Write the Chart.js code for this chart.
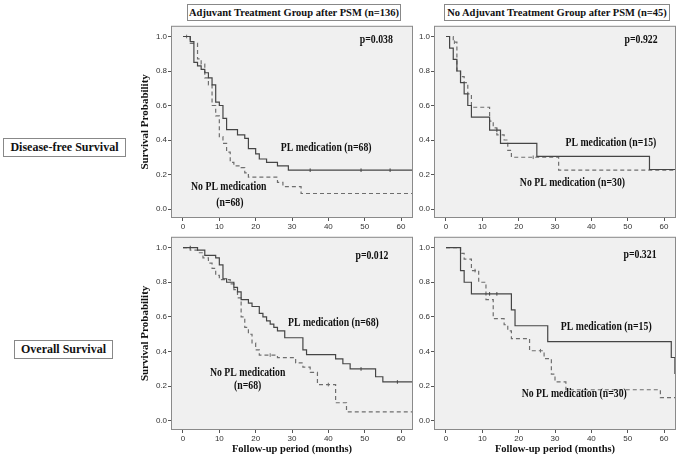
<!DOCTYPE html>
<html>
<head>
<meta charset="utf-8">
<script src="https://cdn.jsdelivr.net/npm/chart.js@4/dist/chart.umd.min.js"></script>
<style>
body { margin: 0; background: #fff; }
#page { position: relative; width: 681px; height: 461px; overflow: hidden; font-family: "Liberation Serif", serif; }
canvas { position: absolute; }
.box { position: absolute; border: 1px solid #888; font-weight: bold; color: #111; text-align: center; white-space: nowrap; box-sizing: border-box; }
</style>
</head>
<body>
<div id="page">
  <div class="box" style="left:187px;top:4px;width:214px;height:17px;line-height:15px;font-size:10.5px">Adjuvant Treatment Group after PSM (n=136)</div>
  <div class="box" style="left:444px;top:4px;width:226px;height:17px;line-height:15px;font-size:10.5px">No Adjuvant Treatment Group after PSM (n=45)</div>
  <div class="box" style="left:3px;top:138px;width:123px;height:19px;line-height:17px;font-size:12px">Disease-free Survival</div>
  <div class="box" style="left:14px;top:340px;width:99px;height:19px;line-height:17px;font-size:12px">Overall Survival</div>
  <canvas id="dfsAdj" width="279" height="214" style="left:139px;top:20px"></canvas>
  <canvas id="dfsNoAdj" width="281" height="214" style="left:400px;top:20px"></canvas>
  <canvas id="osAdj" width="279" height="230" style="left:139px;top:231px"></canvas>
  <canvas id="osNoAdj" width="281" height="230" style="left:400px;top:231px"></canvas>
</div>
<script>
// ---------- axis ticks ----------
const xTicks = [0, 10, 20, 30, 40, 50, 60];
const yTicks = [0.0, 0.2, 0.4, 0.6, 0.8, 1.0];

// ---------- DFS, adjuvant group (n=136) ----------
const dfsAdjPlTime = [0, 2, 3, 4, 5, 6, 7, 8, 9, 10, 11, 12, 15, 17, 18, 20, 21, 23, 26, 29, 64];
const dfsAdjPlSurv = [1.0, 0.97, 0.85, 0.83, 0.81, 0.79, 0.76, 0.72, 0.62, 0.60, 0.525, 0.46, 0.43, 0.41, 0.35, 0.32, 0.29, 0.27, 0.25, 0.225, 0.225];
const dfsAdjPlCensTime = [35, 49, 57];
const dfsAdjPlCensSurv = [0.225, 0.225, 0.225];
const dfsAdjNoTime = [0, 2, 4, 5, 6, 7, 8, 9, 10, 11, 12, 13, 14, 16, 17, 18, 26, 27.5, 32.5, 64];
const dfsAdjNoSurv = [1.0, 0.96, 0.87, 0.84, 0.76, 0.72, 0.60, 0.54, 0.42, 0.38, 0.33, 0.27, 0.25, 0.24, 0.21, 0.185, 0.155, 0.13, 0.09, 0.09];
const dfsAdjNoCensTime = [1];
const dfsAdjNoCensSurv = [1.0];

// ---------- DFS, no adjuvant group (n=45) ----------
const dfsNoAdjPlTime = [0, 1, 2, 3, 4, 5, 6, 7, 12, 15, 25, 56, 64];
const dfsNoAdjPlSurv = [1.0, 0.933, 0.867, 0.80, 0.733, 0.667, 0.60, 0.533, 0.457, 0.381, 0.305, 0.229, 0.229];
const dfsNoAdjPlCensTime = [14];
const dfsNoAdjPlCensSurv = [0.457];
const dfsNoAdjNoTime = [0, 2, 3, 4, 5, 6, 7, 12, 13, 14, 16, 17, 18, 31, 64];
const dfsNoAdjNoSurv = [1.0, 0.967, 0.80, 0.767, 0.733, 0.667, 0.59, 0.51, 0.47, 0.43, 0.40, 0.34, 0.30, 0.225, 0.225];
const dfsNoAdjNoCensTime = [2.3, 24];
const dfsNoAdjNoCensSurv = [0.967, 0.30];

// ---------- OS, adjuvant group (n=136) ----------
const osAdjPlTime = [0, 4, 6, 9, 10, 11, 12, 14, 15, 16, 18, 19, 21, 22, 23, 24, 25, 26, 28, 33, 34, 42, 44, 46, 53, 55, 64];
const osAdjPlSurv = [1.0, 0.985, 0.955, 0.94, 0.90, 0.82, 0.80, 0.77, 0.745, 0.70, 0.68, 0.66, 0.62, 0.60, 0.577, 0.558, 0.54, 0.52, 0.48, 0.41, 0.383, 0.358, 0.33, 0.30, 0.255, 0.225, 0.225];
const osAdjPlCensTime = [2, 49, 59];
const osAdjPlCensSurv = [1.0, 0.30, 0.225];
const osAdjNoTime = [0, 2, 4, 5.5, 7, 8, 9, 10, 13, 14, 15, 16, 17, 18, 19, 20, 21, 26, 31, 33, 35, 37, 42, 45, 64];
const osAdjNoSurv = [1.0, 0.985, 0.97, 0.94, 0.91, 0.88, 0.84, 0.815, 0.79, 0.757, 0.71, 0.60, 0.54, 0.50, 0.45, 0.41, 0.38, 0.365, 0.335, 0.31, 0.28, 0.21, 0.105, 0.053, 0.053];
const osAdjNoCensTime = [24, 40];
const osAdjNoCensSurv = [0.38, 0.21];

// ---------- OS, no adjuvant group (n=45) ----------
const osNoAdjPlTime = [0, 4, 5, 7, 18, 19, 28, 62, 63, 64];
const osNoAdjPlSurv = [1.0, 0.867, 0.80, 0.733, 0.641, 0.549, 0.458, 0.366, 0.275, 0.275];
const osNoAdjPlCensTime = [12, 14];
const osNoAdjPlCensSurv = [0.733, 0.733];
const osNoAdjNoTime = [0, 4, 5, 7, 9, 11, 13, 16, 17, 18, 23, 27, 29, 30, 33, 59, 64];
const osNoAdjNoSurv = [1.0, 0.967, 0.933, 0.867, 0.80, 0.70, 0.59, 0.555, 0.52, 0.475, 0.405, 0.36, 0.27, 0.225, 0.18, 0.135, 0.135];
const osNoAdjNoCensTime = [8, 26];
const osNoAdjNoCensSurv = [0.867, 0.405];

const solidColor = '#454545';
const dashColor = '#6e6e6e';

function pts(t, s) {
    return t.map((v, i) => ({ x: v, y: s[i] }));
}

// background, frame and in-plot text
const panelFrame = {
    id: 'panelFrame',
    beforeDatasetsDraw(chart) {
        const a = chart.chartArea;
        const ctx = chart.ctx;
        ctx.save();
        ctx.fillStyle = '#f0f0f0';
        ctx.fillRect(a.left, a.top, a.right - a.left, a.bottom - a.top);
        ctx.restore();
    },
    afterDraw(chart, args, opts) {
        const a = chart.chartArea;
        const ctx = chart.ctx;
        ctx.save();
        ctx.strokeStyle = '#8a8a8a';
        ctx.lineWidth = 1;
        ctx.strokeRect(a.left + 0.5, a.top + 0.5, a.right - a.left - 1, a.bottom - a.top - 1);
        ctx.fillStyle = '#111';
        ctx.font = 'bold 11.5px "Liberation Serif"';
        ctx.textAlign = 'center';
        ctx.textBaseline = 'middle';
        (opts.notes || []).forEach(n => {
            ctx.save();
            ctx.translate(chart.scales.x.getPixelForValue(n.x), chart.scales.y.getPixelForValue(n.y));
            ctx.scale(0.85, 1);
            ctx.fillText(n.text, 0, 0);
            ctx.restore();
        });
        ctx.restore();
    }
};

function drawPanel(id, p) {
    const tickFont = { family: '"Liberation Sans"', size: 8 };
    new Chart(document.getElementById(id), {
        type: 'line',
        data: {
            datasets: [
                { data: pts(p.plT, p.plS), stepped: true, borderColor: solidColor, borderWidth: 1.2, pointRadius: 0, fill: false },
                { data: pts(p.noT, p.noS), stepped: true, borderColor: dashColor, borderWidth: 1.2, borderDash: [4, 3], pointRadius: 0, fill: false },
                { type: 'scatter', data: pts(p.plCT, p.plCS), pointStyle: 'line', pointRotation: 90, pointRadius: 1.8, pointBorderColor: solidColor, pointBorderWidth: 1 },
                { type: 'scatter', data: pts(p.noCT, p.noCS), pointStyle: 'line', pointRotation: 90, pointRadius: 1.8, pointBorderColor: dashColor, pointBorderWidth: 1 }
            ]
        },
        options: {
            responsive: false,
            animation: false,
            devicePixelRatio: 1,
            layout: { padding: { top: 4, right: p.padRight, bottom: p.padBottom, left: 0 } },
            plugins: {
                legend: { display: false },
                tooltip: { enabled: false },
                panelFrame: { notes: p.notes }
            },
            scales: {
                x: {
                    type: 'linear',
                    min: -3.3,
                    max: 63.3,
                    afterBuildTicks: s => { s.ticks = xTicks.map(v => ({ value: v })); },
                    afterFit: s => { s.height = p.xHeight; },
                    grid: { drawOnChartArea: false, drawTicks: true, tickLength: 3, color: '#555' },
                    border: { display: false },
                    ticks: { font: tickFont, color: '#333', padding: 1, maxRotation: 0, autoSkip: false },
                    title: {
                        display: p.xTitle,
                        text: 'Follow-up period (months)',
                        color: '#111',
                        font: { family: '"Liberation Serif"', size: 10.5, weight: 'bold' },
                        padding: 0
                    }
                },
                y: {
                    min: -0.052,
                    max: 1.062,
                    afterBuildTicks: s => { s.ticks = yTicks.map(v => ({ value: v })); },
                    afterFit: s => { s.width = p.yWidth; },
                    grid: { drawOnChartArea: false, drawTicks: true, tickLength: 3, color: '#555' },
                    border: { display: false },
                    ticks: { font: tickFont, color: '#333', padding: 1, callback: v => v.toFixed(1) },
                    title: {
                        display: p.yTitle,
                        text: 'Survival Probability',
                        color: '#111',
                        font: { family: '"Liberation Serif"', size: 11, weight: 'bold' },
                        padding: 0
                    }
                }
            }
        },
        plugins: [panelFrame]
    });
}

drawPanel('dfsAdj', {
    plT: dfsAdjPlTime, plS: dfsAdjPlSurv, noT: dfsAdjNoTime, noS: dfsAdjNoSurv,
    plCT: dfsAdjPlCensTime, plCS: dfsAdjPlCensSurv, noCT: dfsAdjNoCensTime, noCS: dfsAdjNoCensSurv,
    yWidth: 32, xHeight: 16, padRight: 4, padBottom: 0, yTitle: true, xTitle: false,
    notes: [
        { text: 'p=0.038', x: 53.2, y: 0.98 },
        { text: 'PL medication (n=68)', x: 39.4, y: 0.356 },
        { text: 'No PL medication', x: 12.6, y: 0.126 },
        { text: '(n=68)', x: 12.9, y: 0.034 }
    ]
});

drawPanel('dfsNoAdj', {
    plT: dfsNoAdjPlTime, plS: dfsNoAdjPlSurv, noT: dfsNoAdjNoTime, noS: dfsNoAdjNoSurv,
    plCT: dfsNoAdjPlCensTime, plCS: dfsNoAdjPlCensSurv, noCT: dfsNoAdjNoCensTime, noCS: dfsNoAdjNoCensSurv,
    yWidth: 34, xHeight: 16, padRight: 3, padBottom: 0, yTitle: false, xTitle: false,
    notes: [
        { text: 'p=0.922', x: 53.7, y: 0.98 },
        { text: 'PL medication (n=15)', x: 45.4, y: 0.38 },
        { text: 'No PL medication (n=30)', x: 34.8, y: 0.15 }
    ]
});

drawPanel('osAdj', {
    plT: osAdjPlTime, plS: osAdjPlSurv, noT: osAdjNoTime, noS: osAdjNoSurv,
    plCT: osAdjPlCensTime, plCS: osAdjPlCensSurv, noCT: osAdjNoCensTime, noCS: osAdjNoCensSurv,
    yWidth: 32, xHeight: 26, padRight: 4, padBottom: 5, yTitle: true, xTitle: true,
    notes: [
        { text: 'p=0.012', x: 52, y: 0.949 },
        { text: 'PL medication (n=68)', x: 41.4, y: 0.566 },
        { text: 'No PL medication', x: 17.8, y: 0.274 },
        { text: '(n=68)', x: 17.8, y: 0.20 }
    ]
});

drawPanel('osNoAdj', {
    plT: osNoAdjPlTime, plS: osNoAdjPlSurv, noT: osNoAdjNoTime, noS: osNoAdjNoSurv,
    plCT: osNoAdjPlCensTime, plCS: osNoAdjPlCensSurv, noCT: osNoAdjNoCensTime, noCS: osNoAdjNoCensSurv,
    yWidth: 34, xHeight: 26, padRight: 3, padBottom: 5, yTitle: false, xTitle: true,
    notes: [
        { text: 'p=0.321', x: 53.4, y: 0.954 },
        { text: 'PL medication (n=15)', x: 44.1, y: 0.543 },
        { text: 'No PL medication (n=30)', x: 35.3, y: 0.154 }
    ]
});
</script>
</body>
</html>
